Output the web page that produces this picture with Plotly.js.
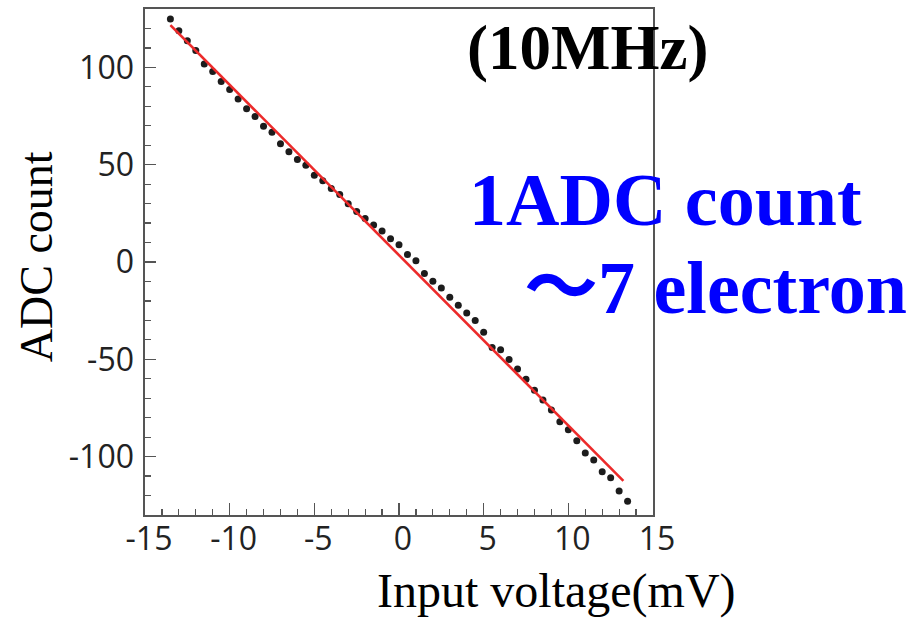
<!DOCTYPE html>
<html>
<head>
<meta charset="utf-8">
<script src="https://cdn.plot.ly/plotly-3.0.1.min.js"></script>
<style>
  html, body { margin: 0; padding: 0; background: #ffffff; }
  #chart { width: 921px; height: 619px; }
</style>
</head>
<body>
<div id="chart"></div>
<script>
// Measured points: input voltage (mV) vs ADC count
const inputVoltage = [
  -13.5, -13.0, -12.5, -12.0, -11.5, -11.0, -10.5, -10.0, -9.5, -9.0,
  -8.5, -8.0, -7.5, -7.0, -6.5, -6.0, -5.5, -5.0, -4.5, -4.0,
  -3.5, -3.0, -2.5, -2.0, -1.5, -1.0, -0.5, 0.0, 0.5, 1.0,
  1.5, 2.0, 2.5, 3.0, 3.5, 4.0, 4.5, 5.0, 5.5, 6.0,
  6.5, 7.0, 7.5, 8.0, 8.5, 9.0, 9.5, 10.0, 10.5, 11.0,
  11.5, 12.0, 12.5, 13.0, 13.5
];
const adcCount = [
  124.8, 118.8, 113.7, 108.7, 101.7, 97.9, 92.8, 88.7, 83.8, 78.8,
  74.7, 69.7, 66.7, 60.7, 56.6, 52.7, 49.7, 44.6, 41.8, 37.8,
  34.7, 29.9, 26.0, 22.3, 19.0, 15.9, 11.9, 8.8, 3.9, 0.7,
  -5.9, -9.9, -13.3, -18.1, -22.2, -26.2, -30.1, -36.1, -43.9, -45.1,
  -50.1, -55.0, -60.2, -65.9, -70.9, -76.1, -82.1, -86.2, -91.9, -98.1,
  -101.8, -107.8, -110.9, -117.7, -122.9
];

// Linear fit (end points)
const fitVoltage = [-13.5, 13.25];
const fitCount = [121.7, -112.5];

// Tick labels
const xTickVals = [-15, -10, -5, 0, 5, 10, 15];
const xTickText = ["-15", "-10", "-5", "0", "5", "10", "15"];
const yTickVals = [-100, -50, 0, 50, 100];
const yTickText = ["-100", "-50", "0", "50", "100"];

// Texts
const xTitleText = "Input voltage(mV)";
const yTitleText = "ADC count";
const freqText = "(10MHz)";
const noteLine1 = "1ADC count";
const noteLine2 = "\uFF5E7 electron";

const serif = "'Liberation Serif', 'Times New Roman', 'Noto Sans CJK JP', serif";
const frameColor = "#555555";

const traces = [
  {
    x: inputVoltage, y: adcCount,
    type: "scatter", mode: "markers",
    marker: { color: "#1c1c1c", size: 7 },
    hoverinfo: "x+y", showlegend: false
  },
  {
    x: fitVoltage, y: fitCount,
    type: "scatter", mode: "lines",
    line: { color: "#ec2a2a", width: 2.6 },
    hoverinfo: "skip", showlegend: false
  }
];

const layout = {
  width: 921, height: 619,
  margin: { l: 145, r: 268, t: 9, b: 104 },
  paper_bgcolor: "#ffffff", plot_bgcolor: "#ffffff",
  showlegend: false,
  font: { family: "'Open Sans', sans-serif", color: "#222222" },
  xaxis: {
    range: [-15, 15], tickmode: "array", tickvals: xTickVals, ticktext: xTickText,
    ticks: "inside", ticklen: 12, tickwidth: 1.3, tickcolor: frameColor,
    minor: { tickmode: "linear", tick0: 0, dtick: 1, ticks: "inside", ticklen: 6, tickwidth: 1.2, tickcolor: frameColor },
    showline: true, linecolor: frameColor, linewidth: 1.6, mirror: true,
    showgrid: false, zeroline: false,
    tickfont: { family: "'Open Sans', sans-serif", size: 32, color: "#222222" },
    ticklabelstandoff: -5, ticklabelshift: 4,
    fixedrange: true
  },
  yaxis: {
    range: [-130, 130], tickmode: "array", tickvals: yTickVals, ticktext: yTickText,
    ticks: "inside", ticklen: 11, tickwidth: 1.3, tickcolor: frameColor,
    minor: { tickmode: "linear", tick0: 0, dtick: 10, ticks: "inside", ticklen: 6, tickwidth: 1.2, tickcolor: frameColor },
    showline: true, linecolor: frameColor, linewidth: 1.6, mirror: true,
    showgrid: false, zeroline: false,
    tickfont: { family: "'Open Sans', sans-serif", size: 32, color: "#222222" },
    ticklabelstandoff: 3,
    fixedrange: true
  },
  annotations: [
    {
      text: "<b>" + freqText + "</b>", xref: "paper", yref: "paper",
      x: 0.871, y: 0.923, xanchor: "center", yanchor: "middle", showarrow: false,
      font: { family: serif, size: 63, color: "#000000" }
    },
    {
      text: "<b>" + noteLine1 + "</b>", xref: "paper", yref: "paper",
      x: 0.634, y: 0.622, xanchor: "left", yanchor: "middle", showarrow: false,
      font: { family: serif, size: 74, color: "#0000ff" }
    },
    {
      text: "<b>" + noteLine2 + "</b>", xref: "paper", yref: "paper",
      x: 0.742, y: 0.449, xanchor: "left", yanchor: "middle", showarrow: false,
      font: { family: serif, size: 74, color: "#0000ff" }
    },
    {
      text: xTitleText, xref: "paper", yref: "paper",
      x: 0.81, y: -0.15, xanchor: "center", yanchor: "middle", showarrow: false,
      font: { family: serif, size: 48, color: "#000000" }
    },
    {
      text: yTitleText, xref: "paper", yref: "paper", textangle: -90,
      x: -0.212, y: 0.51, xanchor: "center", yanchor: "middle", showarrow: false,
      font: { family: serif, size: 46, color: "#000000" }
    }
  ]
};

Plotly.newPlot("chart", traces, layout, { displayModeBar: false, staticPlot: true });
</script>
</body>
</html>
